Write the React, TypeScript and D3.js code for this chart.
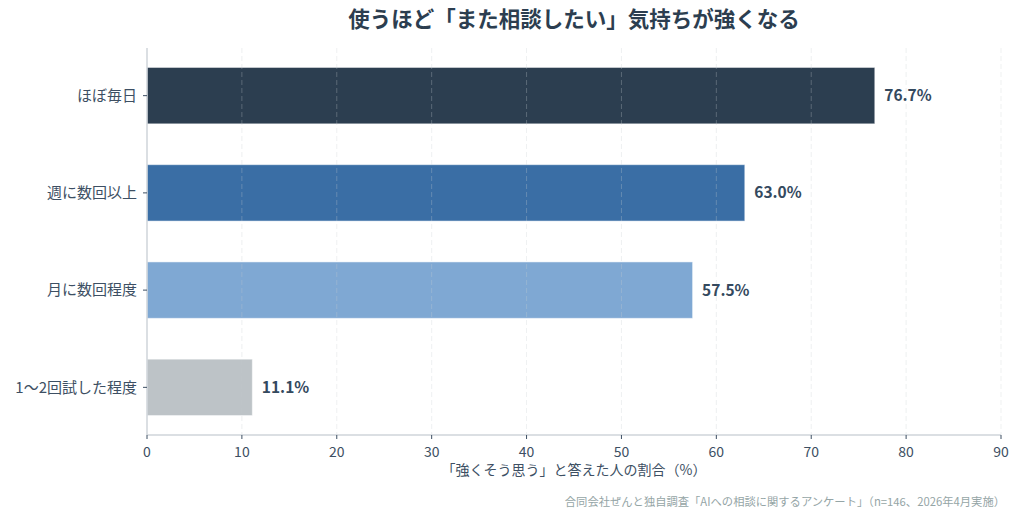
import React, { useEffect, useRef } from "react";
import * as d3 from "d3";

const categories = ["ほぼ毎日", "週に数回以上", "月に数回程度", "1〜2回試した程度"];
const values = [76.7, 63.0, 57.5, 11.1];
const barColors = ["#2c3e50", "#3a6ea5", "#7fa8d3", "#bdc3c7"];
const xTicks = [0, 10, 20, 30, 40, 50, 60, 70, 80, 90];

const title = "使うほど「また相談したい」気持ちが強くなる";
const xLabel = "「強くそう思う」と答えた人の割合（%）";
const source = "合同会社ぜんと独自調査「AIへの相談に関するアンケート」（n=146、2026年4月実施）";

const W = 1024;
const H = 519;
const FONT = "'Noto Sans CJK JP', 'Noto Sans', sans-serif";

const App: React.FC = () => {
  const svgRef = useRef<SVGSVGElement | null>(null);

  useEffect(() => {
    if (!svgRef.current) return;
    const svg = d3.select(svgRef.current);
    svg.selectAll("*").remove();

    const margin = { top: 48, right: 23, bottom: 84, left: 147 };
    const innerW = W - margin.left - margin.right;
    const innerH = H - margin.top - margin.bottom;

    const x = d3.scaleLinear().domain([0, 90]).range([0, innerW]);
    const y = d3
      .scaleBand<string>()
      .domain(categories)
      .range([0, innerH])
      .paddingInner(0.42)
      .paddingOuter(0.2);

    const g = svg
      .append("g")
      .attr("transform", `translate(${margin.left},${margin.top})`);

    // bars
    g.selectAll(".bar")
      .data(values)
      .enter()
      .append("rect")
      .attr("x", 0)
      .attr("y", (_, i) => y(categories[i])!)
      .attr("width", (d) => x(d))
      .attr("height", y.bandwidth())
      .attr("fill", (_, i) => barColors[i])
      .attr("stroke", "#ffffff")
      .attr("stroke-opacity", 0.5)
      .attr("stroke-width", 1);

    // grid on top, faint dashed
    g.selectAll(".grid")
      .data(xTicks.slice(1))
      .enter()
      .append("line")
      .attr("x1", (d) => x(d))
      .attr("x2", (d) => x(d))
      .attr("y1", 0)
      .attr("y2", innerH)
      .attr("stroke", "#c8ccd0")
      .attr("stroke-opacity", 0.3)
      .attr("stroke-dasharray", "5,3")
      .attr("stroke-width", 1);

    // spines
    g.append("line")
      .attr("x1", 0)
      .attr("x2", 0)
      .attr("y1", 0)
      .attr("y2", innerH)
      .attr("stroke", "#cfd4da")
      .attr("stroke-width", 1.5);
    g.append("line")
      .attr("x1", 0)
      .attr("x2", innerW)
      .attr("y1", innerH)
      .attr("y2", innerH)
      .attr("stroke", "#cfd4da")
      .attr("stroke-width", 1.5);

    // x ticks
    const xt = g
      .selectAll(".xt")
      .data(xTicks)
      .enter()
      .append("g")
      .attr("transform", (d) => `translate(${x(d)},${innerH})`);
    xt.append("line").attr("y1", 0).attr("y2", 4).attr("stroke", "#3d4f63").attr("stroke-width", 1);
    xt.append("text")
      .attr("y", 22)
      .attr("text-anchor", "middle")
      .attr("font-family", FONT)
      .attr("font-size", 14)
      .attr("fill", "#3d4f63")
      .text((d) => d);

    // y ticks
    const yt = g
      .selectAll(".yt")
      .data(categories)
      .enter()
      .append("g")
      .attr("transform", (d) => `translate(0,${y(d)! + y.bandwidth() / 2})`);
    yt.append("line").attr("x1", -4).attr("x2", 0).attr("stroke", "#3d4f63").attr("stroke-width", 1);
    yt.append("text")
      .attr("x", -10)
      .attr("dy", "0.35em")
      .attr("text-anchor", "end")
      .attr("font-family", FONT)
      .attr("font-size", 15)
      .attr("fill", "#3d4f63")
      .text((d) => d);

    // value labels
    g.selectAll(".val")
      .data(values)
      .enter()
      .append("text")
      .attr("x", (d) => x(d + 1))
      .attr("y", (_, i) => y(categories[i])! + y.bandwidth() / 2)
      .attr("dy", "0.35em")
      .attr("font-family", FONT)
      .attr("font-size", 15.5)
      .attr("font-weight", "bold")
      .attr("fill", "#34495e")
      .text((d) => `${d.toFixed(1)}%`);

    // axis label
    g.append("text")
      .attr("x", innerW / 2)
      .attr("y", innerH + 40)
      .attr("text-anchor", "middle")
      .attr("font-family", FONT)
      .attr("font-size", 14)
      .attr("fill", "#3d4f63")
      .text(xLabel);

    // title
    svg
      .append("text")
      .attr("x", margin.left + innerW / 2)
      .attr("y", 27)
      .attr("text-anchor", "middle")
      .attr("font-family", FONT)
      .attr("font-size", 21.5)
      .attr("font-weight", "bold")
      .attr("fill", "#2c3e50")
      .text(title);

    // source
    svg
      .append("text")
      .attr("x", 1005)
      .attr("y", 506)
      .attr("text-anchor", "end")
      .attr("font-family", FONT)
      .attr("font-size", 11.3)
      .attr("fill", "#95a5a6")
      .text(source);
  }, []);

  return (
    <svg
      ref={svgRef}
      width={W}
      height={H}
      viewBox={`0 0 ${W} ${H}`}
      style={{ position: "absolute", left: 0, top: 0, background: "#ffffff" }}
    />
  );
};

export default App;
